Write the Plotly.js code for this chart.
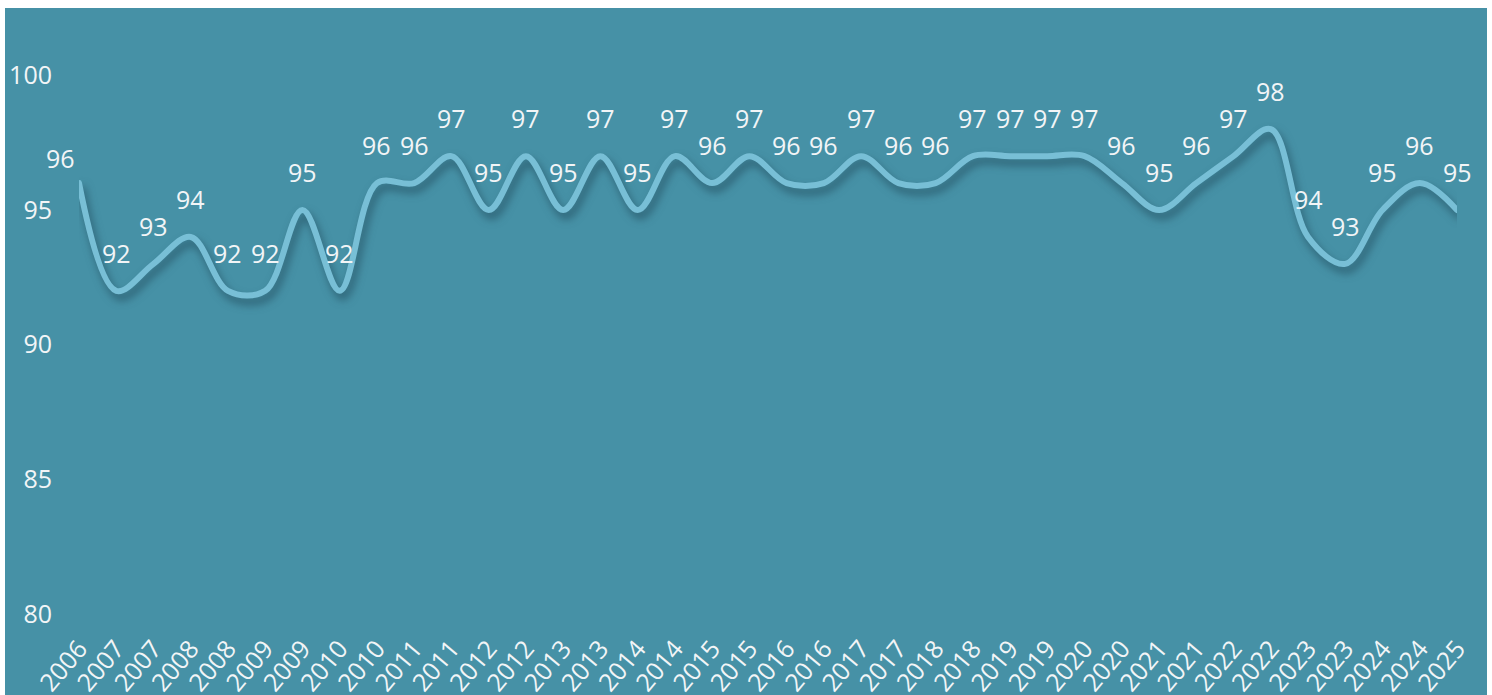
<!DOCTYPE html>
<html>
<head>
<meta charset="utf-8">
<script src="https://cdn.plot.ly/plotly-3.0.1.min.js"></script>
<style>
  html, body { margin: 0; padding: 0; background: #ffffff; width: 1492px; height: 695px; overflow: hidden; }
  #chart { position: absolute; left: 5px; top: 8px; width: 1482px; height: 687px; }
</style>
</head>
<body>
<div id="chart"></div>
<script>
// Category labels (x axis)
const years = ["2006","2007","2007","2008","2008","2009","2009","2010","2010","2011",
               "2011","2012","2012","2013","2013","2014","2014","2015","2015","2016",
               "2016","2017","2017","2018","2018","2019","2019","2020","2020","2021",
               "2021","2022","2022","2023","2023","2024","2024","2025"];
// Series values
const values = [96, 92, 93, 94, 92, 92, 95, 92, 96, 96,
                97, 95, 97, 95, 97, 95, 97, 96, 97, 96,
                96, 97, 96, 96, 97, 97, 97, 97, 96, 95,
                96, 97, 98, 94, 93, 95, 96, 95];
// Y-axis ticks
const yTicks = [80, 85, 90, 95, 100];

const idx = years.map((_, i) => i);
const BG = '#4691a6';
const LINE = '#78bfd6';
const TXT = '#f2f5f7';
const FONT = 'Open Sans, DejaVu Sans, sans-serif';
const FS = 25;

const trace = {
  x: idx,
  y: values,
  type: 'scatter',
  mode: 'lines',
  line: { color: LINE, width: 6, shape: 'spline', smoothing: 1 },
  hoverinfo: 'skip'
};

const annotations = values.map((v, i) => ({
  x: i, y: v, xref: 'x', yref: 'y',
  text: String(v),
  showarrow: false,
  xanchor: 'center', yanchor: 'middle',
  yshift: i === 0 ? 25 : 38,
  xshift: i === 0 ? -19 : 0,
  font: { family: FONT, size: FS, color: TXT }
}));

const layout = {
  width: 1482, height: 687,
  paper_bgcolor: BG, plot_bgcolor: BG,
  margin: { l: 74, r: 30, t: 0, b: 81, pad: 0 },
  showlegend: false,
  xaxis: {
    range: [0, years.length - 1],
    tickmode: 'array', tickvals: idx, ticktext: years,
    tickangle: -50,
    ticks: '', showgrid: false, zeroline: false, showline: false,
    ticklabelstandoff: 14,
    tickfont: { family: FONT, size: FS, color: TXT },
    fixedrange: true
  },
  yaxis: {
    range: [80, 102.5],
    tickmode: 'array', tickvals: yTicks, ticktext: yTicks.map(String),
    ticks: '', showgrid: false, zeroline: false, showline: false,
    ticklabelstandoff: 26,
    tickfont: { family: FONT, size: FS, color: TXT },
    fixedrange: true
  },
  annotations: annotations
};

Plotly.newPlot('chart', [trace], layout, { displayModeBar: false, staticPlot: true }).then(() => {
  document.querySelectorAll('.scatterlayer .js-line').forEach(p => {
    p.style.filter = 'drop-shadow(3px 6px 4px rgba(20,50,65,0.55))';
    p.style.strokeLinecap = 'round';
  });
});
</script>
</body>
</html>
